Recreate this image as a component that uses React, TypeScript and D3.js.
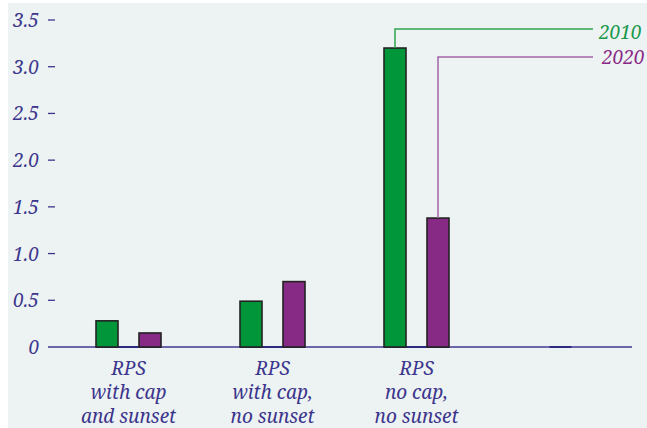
import React from "react";
import * as d3 from "d3";

// data
const categories = ["cap-sunset", "cap-nosunset", "nocap-nosunset", "empty"];
const labelLines = [
    ["RPS", "with cap", "and sunset"],
    ["RPS", "with cap,", "no sunset"],
    ["RPS", "no cap,", "no sunset"],
    [],
];
const values2010 = [0.28, 0.49, 3.2, null];
const values2020 = [0.15, 0.7, 1.38, null];
const yTicks = [0, 0.5, 1.0, 1.5, 2.0, 2.5, 3.0, 3.5];
const seriesNames = ["2010", "2020"];

const width = 647;
const height = 428;
const font = "'Noto Serif', serif";
const fontSize = 19;
const textColor = "#3b358c";

function App() {
    const svgRef = React.useRef(null);

    React.useEffect(() => {
        const svg = d3.select(svgRef.current);
        svg.selectAll("*").remove();

        const x = d3.scaleBand().domain(categories).range([56.5, 632.5]).padding(0);
        const y = d3.scaleLinear().domain([0, 3.5]).range([347, 20]);
        const barW = 22;
        const offset = 21.5;
        const cx = (c) => x(c) + x.bandwidth() / 2;

        svg.append("rect")
            .attr("x", 8).attr("y", 3)
            .attr("width", width - 8).attr("height", height - 3)
            .attr("fill", "#edf2f2");

        // y ticks
        const tg = svg.append("g");
        yTicks.forEach(t => {
            tg.append("text")
                .attr("x", 39).attr("y", y(t) + 7)
                .attr("text-anchor", "end")
                .attr("font-family", font).attr("font-style", "italic")
                .attr("font-size", fontSize).attr("fill", textColor)
                .text(t === 0 ? "0" : d3.format(".1f")(t));
            if (t !== 0) {
                tg.append("line")
                    .attr("x1", 48).attr("x2", 55)
                    .attr("y1", y(t)).attr("y2", y(t))
                    .attr("stroke", textColor).attr("stroke-width", 1.3);
            }
        });

        // axis line
        svg.append("line")
            .attr("x1", 48).attr("x2", 632)
            .attr("y1", y(0)).attr("y2", y(0))
            .attr("stroke", "#6d66aa").attr("stroke-width", 2);

        // darker baseline under each group
        categories.forEach((c, i) => {
            const has = values2010[i] !== null;
            const x1 = has ? cx(c) - offset - barW / 2 : cx(c) - barW / 2;
            const x2 = has ? cx(c) + offset + barW / 2 : cx(c) + barW / 2;
            svg.append("line")
                .attr("x1", x1).attr("x2", x2)
                .attr("y1", y(0)).attr("y2", y(0))
                .attr("stroke", "#2e2a80").attr("stroke-width", 2);
        });

        const series = [
            { vals: values2010, color: "#009639", dx: -offset },
            { vals: values2020, color: "#862a85", dx: offset },
        ];
        series.forEach(s => {
            svg.append("g").selectAll("rect")
                .data(categories.map((c, i) => ({ c, v: s.vals[i] })).filter(d => d.v !== null))
                .join("rect")
                .attr("x", d => cx(d.c) + s.dx - barW / 2)
                .attr("y", d => y(d.v))
                .attr("width", barW)
                .attr("height", d => y(0) - y(d.v))
                .attr("fill", s.color)
                .attr("stroke", "#222")
                .attr("stroke-width", 1.6);
        });

        // category labels
        categories.forEach((c, i) => {
            labelLines[i].forEach((ln, j) => {
                svg.append("text")
                    .attr("x", cx(c)).attr("y", 375 + j * 24)
                    .attr("text-anchor", "middle")
                    .attr("font-family", font).attr("font-style", "italic")
                    .attr("font-size", fontSize).attr("fill", textColor)
                    .text(ln);
            });
        });

        // legend callouts from tallest group
        const lc = categories[2];
        const legend = [
            { name: seriesNames[0], v: values2010[2], dx: -offset, ly: 29, ty: 39, tx: 599, line: "#2ea44f", text: "#17984a" },
            { name: seriesNames[1], v: values2020[2], dx: offset, ly: 57, ty: 64, tx: 602, line: "#a364a8", text: "#8a2a87" },
        ];
        legend.forEach(l => {
            const bx = cx(lc) + l.dx;
            svg.append("path")
                .attr("d", `M${bx},${y(l.v)} V${l.ly} H593`)
                .attr("fill", "none")
                .attr("stroke", l.line).attr("stroke-width", 1.5);
            svg.append("text")
                .attr("x", l.tx).attr("y", l.ty)
                .attr("font-family", font).attr("font-style", "italic")
                .attr("font-size", fontSize).attr("fill", l.text)
                .text(l.name);
        });
    }, []);

    return (
        <svg ref={svgRef} width={width} height={height}
            style={{ position: "absolute", left: 0, top: 0 }} />
    );
}

export default App;
